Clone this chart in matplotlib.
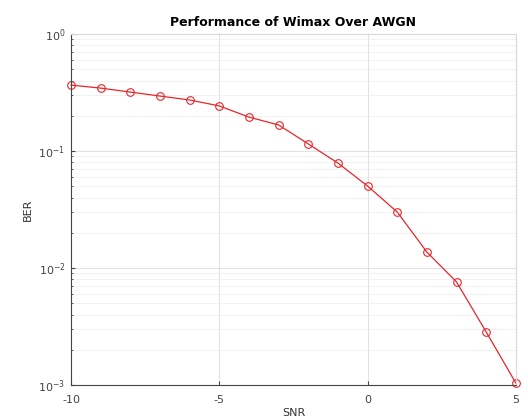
import matplotlib.pyplot as plt
import numpy as np

plt.rcParams["axes.unicode_minus"] = False

snr = [-10, -9, -8, -7, -6, -5, -4, -3, -2, -1, 0, 1, 2, 3, 4, 5]
ber = [0.366, 0.345, 0.319, 0.295, 0.273, 0.243, 0.195, 0.167, 0.115,
       0.0789, 0.0502, 0.0301, 0.0137, 0.0076, 0.00284, 0.00104]
x_ticks = [-10, -5, 0, 5]

fig = plt.figure(figsize=(5.28, 4.2), dpi=100)
ax = fig.add_axes([0.1345, 0.0833, 0.8425, 0.8357])

ax.semilogy(snr, ber, color="#e8262a", lw=0.9, marker="o", ms=5.5,
            mfc="none", mec="#e8262a", mew=0.8, clip_on=False)

ax.set_xlim(-10, 5)
ax.set_ylim(1e-3, 1e0)
ax.set_xticks(x_ticks)
ax.grid(True, which="major", color="#dcdcdc", lw=0.6)
ax.grid(True, which="minor", axis="y", color="#ededed", lw=0.5)
ax.set_axisbelow(True)

for side in ["top", "right"]:
    ax.spines[side].set_color("#d8d8d8")
for side in ["left", "bottom"]:
    ax.spines[side].set_color("#444444")
ax.tick_params(which="both", direction="in", colors="#444444", labelsize=8,
               length=3)
ax.tick_params(which="minor", length=1.5)
ax.tick_params(axis="x", pad=7)
ax.tick_params(axis="y", pad=4)

ax.set_title("Performance of Wimax Over AWGN", fontsize=9, fontweight="bold")
ax.set_xlabel("SNR", fontsize=8, color="#333333", labelpad=2)
ax.set_ylabel("BER", fontsize=8, color="#333333")

fig.savefig("out.png", dpi=100)
